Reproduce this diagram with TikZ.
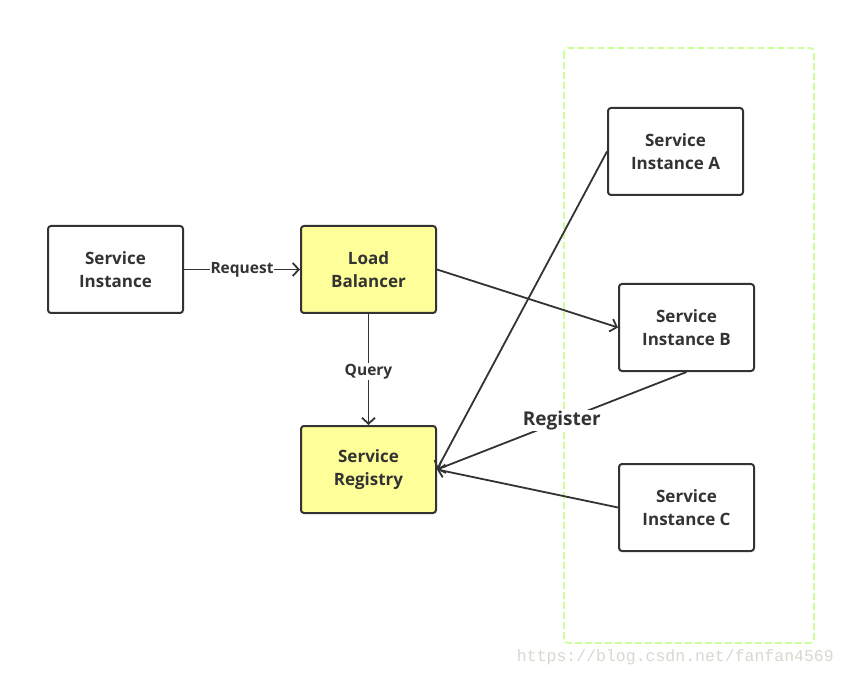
\documentclass[tikz,border=0pt]{standalone}
\usepackage{fontspec}
\setmainfont{Open Sans}
\setmonofont{Liberation Mono}
\usepackage{tikz}
\usetikzlibrary{arrows.meta}
\definecolor{edgegray}{HTML}{333333}
\definecolor{lbyellow}{HTML}{FFFF99}
\definecolor{groupgreen}{HTML}{CCFF99}
\definecolor{wmgray}{HTML}{D8D8CF}

\begin{document}
\begin{tikzpicture}[x=1pt,y=-1pt,
  box/.style={draw=edgegray, line width=2pt, rounded corners=3pt,
    minimum width=135pt, minimum height=87pt, align=center, text=edgegray,
    font=\bfseries\fontsize{17}{23}\selectfont},
  yellowbox/.style={box, fill=lbyellow},
  conn/.style={draw=edgegray, line width=1.8pt, -{Straight Barb[length=6pt,width=13pt]}},
  lbl/.style={fill=white, inner sep=1pt, text=edgegray, font=\bfseries\fontsize{15.5}{18}\selectfont}]
\useasboundingbox (0,0) rectangle (846,676);
% draws the instance group
\draw[groupgreen, line width=1.6pt, rounded corners=4pt, dash pattern=on 7pt off 3pt]
  (564,48) rectangle (814,643);
% draws boxes
\node[box] (client) at (115.5,269.5) {Service\\Instance};
\node[yellowbox] (lb) at (368.5,269.5) {Load\\Balancer};
\node[yellowbox] (reg) at (368.5,469.5) {Service\\Registry};
\node[box] (sa) at (675.5,151.5) {Service\\Instance A};
\node[box] (sb) at (686.5,327.5) {Service\\Instance B};
\node[box] (sc) at (686.5,507.5) {Service\\Instance C};
% draws edges
\draw[conn] (client) -- node[lbl] {Request} (lb);
\draw[conn] (lb) -- node[lbl, yshift=-2pt] {Query} (reg);
\draw[conn] (lb.east) -- (sb.west);
\draw[conn] (sa.west) -- (reg.east);
\draw[conn] (sb.south) -- node[lbl, font=\bfseries\fontsize{19}{22}\selectfont] {Register} (reg.east);
\draw[conn] (sc.west) -- (reg.east);
% watermark
\node[anchor=east, inner sep=0pt, text=wmgray, font=\ttfamily\fontsize{16.5}{18}\selectfont]
  (wm) at (834,657) {https://blog.csdn.net/fanfan4569};
\end{tikzpicture}
\end{document}
